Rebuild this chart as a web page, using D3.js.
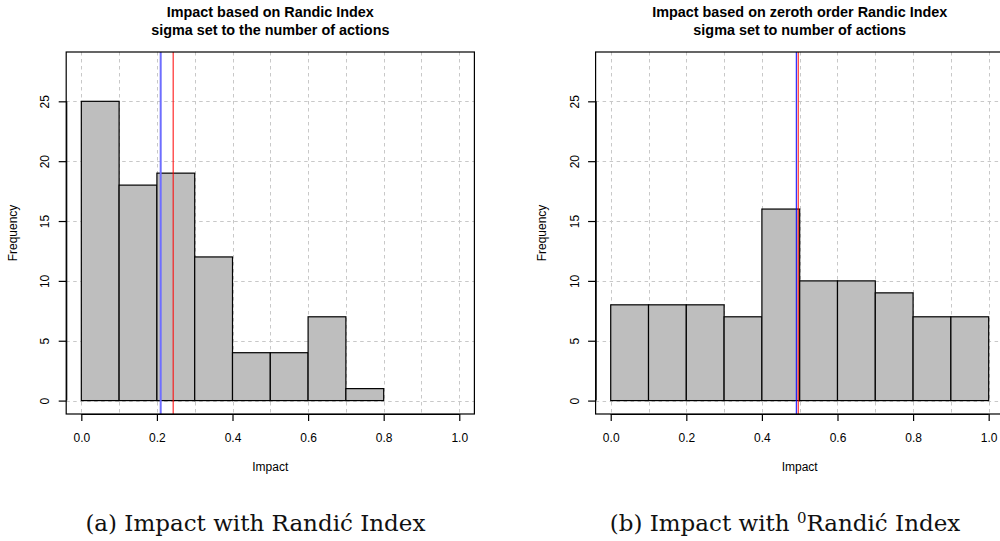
<!DOCTYPE html>
<html>
<head>
<meta charset="utf-8">
<script src="https://cdn.jsdelivr.net/npm/d3@7"></script>
<style>
  html, body { margin: 0; padding: 0; background: #fff; }
  svg { display: block; }
</style>
</head>
<body>
<svg id="chart" width="1000" height="541"></svg>
<script>
// Histogram bin edges (shared by both panels)
const binEdges = [0, 0.1, 0.2, 0.3, 0.4, 0.5, 0.6, 0.7, 0.8, 0.9, 1.0];

// Frequencies per bin
const randicCounts = [25, 18, 19, 12, 4, 4, 7, 1];
const zerothCounts = [8, 8, 8, 7, 16, 10, 10, 9, 7, 7];

// Reference lines (blue and red) per panel
const randicLines = [0.21, 0.243];
const zerothLines = [0.491, 0.496];

// Axis ticks
const xTicks = [0, 0.2, 0.4, 0.6, 0.8, 1.0];
const xTickLabels = ["0.0", "0.2", "0.4", "0.6", "0.8", "1.0"];
const yTicks = [0, 5, 10, 15, 20, 25];
const gridX = [0, 0.1, 0.2, 0.3, 0.4, 0.5, 0.6, 0.7, 0.8, 0.9, 1.0];

// Titles and captions
const randicTitle = ["Impact based on Randic Index", "sigma set to the number of actions"];
const zerothTitle = ["Impact based on zeroth order Randic Index", "sigma set to number of actions"];

const svg = d3.select("#chart");
const sans = "'Liberation Sans', Arial, Helvetica, sans-serif";

function drawPanel(cfg) {
  const left = cfg.left, right = cfg.left + 408.2, top = 52, bottom = 414;
  const x = d3.scaleLinear().domain([-0.04, 1.04]).range([left, right]);
  const y = d3.scaleLinear().domain([-1.12, 29.12]).range([bottom, top]);
  const g = svg.append("g");

  // dashed grid
  g.selectAll(".gx").data(gridX).join("line")
    .attr("x1", d => Math.round(x(d)) + 0.5).attr("x2", d => Math.round(x(d)) + 0.5)
    .attr("y1", top).attr("y2", bottom)
    .attr("stroke", "#c8c8c8").attr("stroke-width", 1).attr("stroke-dasharray", "3.5,3.5");
  g.selectAll(".gy").data(yTicks).join("line")
    .attr("x1", left).attr("x2", right)
    .attr("y1", d => Math.round(y(d)) + 0.5).attr("y2", d => Math.round(y(d)) + 0.5)
    .attr("stroke", "#c8c8c8").attr("stroke-width", 1).attr("stroke-dasharray", "3.5,3.5");

  // bars
  const bins = cfg.counts.map((c, i) => ({ x0: binEdges[i], x1: binEdges[i + 1], n: c }));
  g.selectAll(".bar").data(bins).join("rect")
    .attr("x", d => x(d.x0)).attr("width", d => x(d.x1) - x(d.x0))
    .attr("y", d => y(d.n)).attr("height", d => y(0) - y(d.n))
    .attr("fill", "#bebebe").attr("stroke", "#000").attr("stroke-width", 1.2);

  // vertical reference lines
  g.append("line")
    .attr("x1", x(cfg.lines[0])).attr("x2", x(cfg.lines[0]))
    .attr("y1", top).attr("y2", bottom)
    .attr("stroke", cfg.blue).attr("stroke-width", cfg.blueWidth);
  g.append("line")
    .attr("x1", x(cfg.lines[1])).attr("x2", x(cfg.lines[1]))
    .attr("y1", top).attr("y2", bottom)
    .attr("stroke", "#ff0000").attr("stroke-width", 1);

  // plot box
  g.append("rect")
    .attr("x", left).attr("y", top).attr("width", right - left).attr("height", bottom - top)
    .attr("fill", "none").attr("stroke", "#000").attr("stroke-width", 1.2);

  // x axis
  const xa = g.append("g").attr("transform", `translate(0,${bottom})`)
    .call(d3.axisBottom(x).tickValues(xTicks).tickSize(7).tickPadding(0)
      .tickFormat((d, i) => xTickLabels[i]));
  xa.select(".domain").attr("d", `M${x(0)},0.5H${x(1)}`).attr("stroke", "#000").attr("stroke-width", 1.2);
  xa.selectAll(".tick line").attr("stroke", "#000").attr("stroke-width", 1.2);
  xa.selectAll(".tick text").attr("font-family", sans).attr("font-size", 12)
    .attr("fill", "#000").attr("y", 27.7).attr("dy", null);

  // y axis
  const ya = g.append("g").attr("transform", `translate(${left},0)`)
    .call(d3.axisLeft(y).tickValues(yTicks).tickSize(7.5).tickFormat(d3.format("d")));
  ya.select(".domain").attr("d", `M0.5,${y(0)}V${y(25)}`).attr("stroke", "#000").attr("stroke-width", 1.2);
  ya.selectAll(".tick line").attr("stroke", "#000").attr("stroke-width", 1.2);
  ya.selectAll(".tick text").attr("font-family", sans).attr("font-size", 12).attr("fill", "#000")
    .attr("x", null).attr("dy", null).attr("text-anchor", "middle")
    .attr("transform", "translate(-16.9,0) rotate(-90)");

  // titles
  const cx = (left + right) / 2;
  g.selectAll(".title").data(cfg.title).join("text")
    .attr("x", cx).attr("y", (d, i) => 17.3 + i * 17.4)
    .attr("text-anchor", "middle").attr("font-family", sans)
    .attr("font-weight", "bold").attr("font-size", 14.4).attr("fill", "#000")
    .text(d => d);

  // axis labels
  g.append("text").attr("x", cx).attr("y", 471)
    .attr("text-anchor", "middle").attr("font-family", sans).attr("font-size", 12)
    .text("Impact");
  g.append("text")
    .attr("transform", `translate(${left - 49.5},233) rotate(-90)`)
    .attr("text-anchor", "middle").attr("font-family", sans).attr("font-size", 12)
    .text("Frequency");
}

drawPanel({ left: 66.2, counts: randicCounts, lines: randicLines, title: randicTitle,
            blue: "#6e6eff", blueWidth: 2 });
drawPanel({ left: 595.6, counts: zerothCounts, lines: zerothLines, title: zerothTitle,
            blue: "#0000ff", blueWidth: 1 });

// sub-figure captions
const serif = "'DejaVu Serif', 'Liberation Serif', serif";
svg.append("text").attr("x", 255.4).attr("y", 531).attr("text-anchor", "middle")
  .attr("font-family", serif).attr("font-size", 23).attr("fill", "#111")
  .text("(a) Impact with Randić Index");
const capB = svg.append("text").attr("x", 785).attr("y", 531).attr("text-anchor", "middle")
  .attr("font-family", serif).attr("font-size", 23).attr("fill", "#111");
capB.append("tspan").text("(b) Impact with ");
capB.append("tspan").attr("font-size", 15).attr("dy", -8).text("0");
capB.append("tspan").attr("dy", 8).text("Randić Index");
</script>
</body>
</html>
